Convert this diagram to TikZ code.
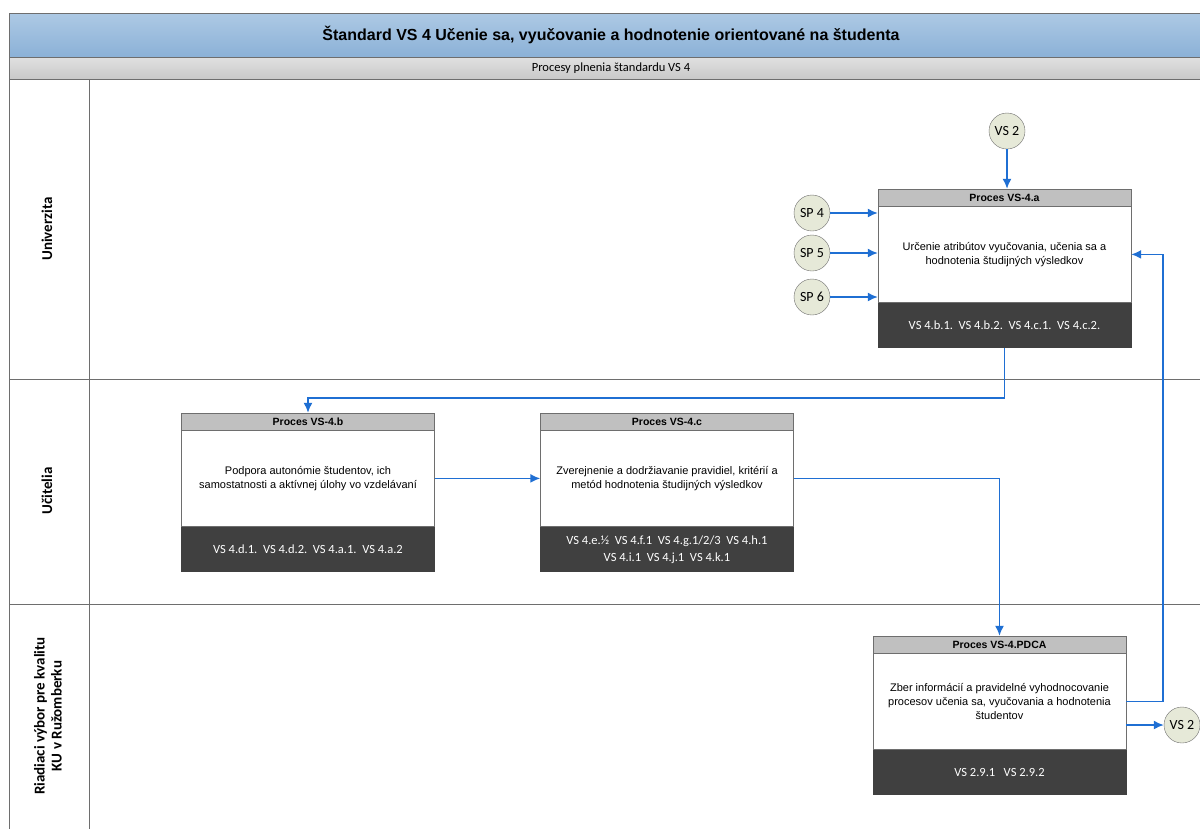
\documentclass[tikz,border=0pt]{standalone}
\usepackage{fontspec}
\setmainfont{Liberation Sans}
\newfontfamily\calibri{Carlito}
\usetikzlibrary{arrows.meta,positioning}

\definecolor{titletop}{HTML}{ADC9E4}
\definecolor{titlebot}{HTML}{8BB1D7}
\definecolor{subtop}{HTML}{E0E0E0}
\definecolor{subbot}{HTML}{C9C9C9}
\definecolor{headgray}{HTML}{C0C0C0}
\definecolor{footgray}{HTML}{404040}
\definecolor{refgreen}{HTML}{E6E9D8}
\definecolor{flowblue}{HTML}{1F6FD3}
\definecolor{linegray}{HTML}{6E6E6E}

\begin{document}
\begin{tikzpicture}[x=1pt,y=-1pt,>={Latex[length=10pt,width=9pt]}]
  \tikzstyle{lane}=[draw=linegray,line width=0.9pt]
  \tikzstyle{lanelabel}=[rotate=90,align=center,font=\calibri\fontsize{15}{17}\selectfont\bfseries]
  \tikzstyle{prochead}=[draw=linegray,fill=headgray,minimum width=253pt,minimum height=17pt,inner sep=0pt,font=\fontsize{10.5}{12}\selectfont\bfseries]
  \tikzstyle{procbody}=[draw=linegray,fill=white,minimum width=253pt,minimum height=96pt,inner sep=0pt,align=center,font=\fontsize{11}{14}\selectfont]
  \tikzstyle{procfoot}=[fill=footgray,text=white,minimum width=254pt,minimum height=45pt,inner sep=0pt,align=center,font=\calibri\fontsize{12.5}{17}\selectfont]
  \tikzstyle{ref}=[circle,draw=linegray,fill=refgreen,minimum size=36pt,inner sep=0pt,font=\calibri\fontsize{14}{16}\selectfont]
  \tikzstyle{flow}=[->,draw=flowblue,line width=1.6pt]

  \useasboundingbox (0,0) rectangle (1200,828);

  % title and lanes
  \path[lane,top color=titletop,bottom color=titlebot] (9,13) rectangle (1202,57);
  \path[lane,top color=subtop,bottom color=subbot] (9,57) rectangle (1202,79);
  \node (title) at (611,35) {\fontsize{16}{19}\selectfont\bfseries Štandard VS 4 Učenie sa,  vyučovanie a hodnotenie orientované na študenta};
  \node (subtitle) at (611,68) {\calibri\fontsize{12.5}{14}\selectfont Procesy plnenia štandardu VS 4};
  \draw[lane] (9,79) rectangle (1202,379);
  \draw[lane] (9,379) rectangle (1202,604);
  \draw[lane] (9,604) rectangle (1202,832);
  \draw[lane] (89,79) -- (89,832);

  \node[lanelabel] (univ) at (47,229) {Univerzita};
  \node[lanelabel] (ucit) at (47,491) {Učitelia};
  \node[lanelabel] (rvk)  at (48,716) {Riadiaci výbor pre kvalitu\\KU v Ružomberku};

  % processes
  \node[prochead] (ah) at (1004.5,197.5) {Proces VS-4.a};
  \node[procbody] (a) [below=0pt of ah] {Určenie atribútov vyučovania, učenia sa a\\hodnotenia študijných výsledkov};
  \node[procfoot] (af) [below=0pt of a] {VS 4.b.1.\ \ VS 4.b.2.\ \ VS 4.c.1.\ \ VS 4.c.2.};

  \node[prochead] (bh) at (308,421.5) {Proces VS-4.b};
  \node[procbody] (b) [below=0pt of bh] {Podpora autonómie študentov, ich\\samostatnosti a aktívnej úlohy vo vzdelávaní};
  \node[procfoot] (bf) [below=0pt of b] {VS 4.d.1.\ \ VS 4.d.2.\ \ VS 4.a.1.\ \ VS 4.a.2};

  \node[prochead] (ch) at (667,421.5) {Proces VS-4.c};
  \node[procbody] (c) [below=0pt of ch] {Zverejnenie a dodržiavanie pravidiel, kritérií a\\metód hodnotenia študijných výsledkov};
  \node[procfoot] (cf) [below=0pt of c] {VS 4.e.½\ \ VS 4.f.1\ \ VS 4.g.1/2/3\ \ VS 4.h.1\\VS 4.i.1\ \ VS 4.j.1\ \ VS 4.k.1};

  \node[prochead] (pdh) at (999.5,644.5) {Proces VS-4.PDCA};
  \node[procbody] (pd) [below=0pt of pdh] {Zber informácií a pravidelné vyhodnocovanie\\procesov učenia sa, vyučovania a hodnotenia\\študentov};
  \node[procfoot] (pdf) [below=0pt of pd] {VS 2.9.1\ \ \ VS 2.9.2};

  % references
  \node[ref] (vs2a) at (1007,131) {VS 2};
  \node[ref] (sp4) at (812,213) {SP 4};
  \node[ref] (sp5) at (812,253) {SP 5};
  \node[ref] (sp6) at (812,297) {SP 6};
  \node[ref] (vs2b) at (1182,725) {VS 2};

  % flows
  \draw[flow] (vs2a) -- (vs2a |- ah.north);
  \draw[flow] (sp4) -- (sp4 -| a.west);
  \draw[flow] (sp5) -- (sp5 -| a.west);
  \draw[flow] (sp6) -- (sp6 -| a.west);
  \draw[flow] (af.south) -- ([yshift=-50pt]af.south) -| (bh.north);
  \draw[flow] (b) -- (c);
  \draw[flow] (c.east) -| (pdh.north);
  \draw[flow] (pd.east) -- ([xshift=37pt]pd.east) |- (a.east);
  \draw[flow] (vs2b -| pd.east) -- (vs2b);
\end{tikzpicture}
\end{document}
